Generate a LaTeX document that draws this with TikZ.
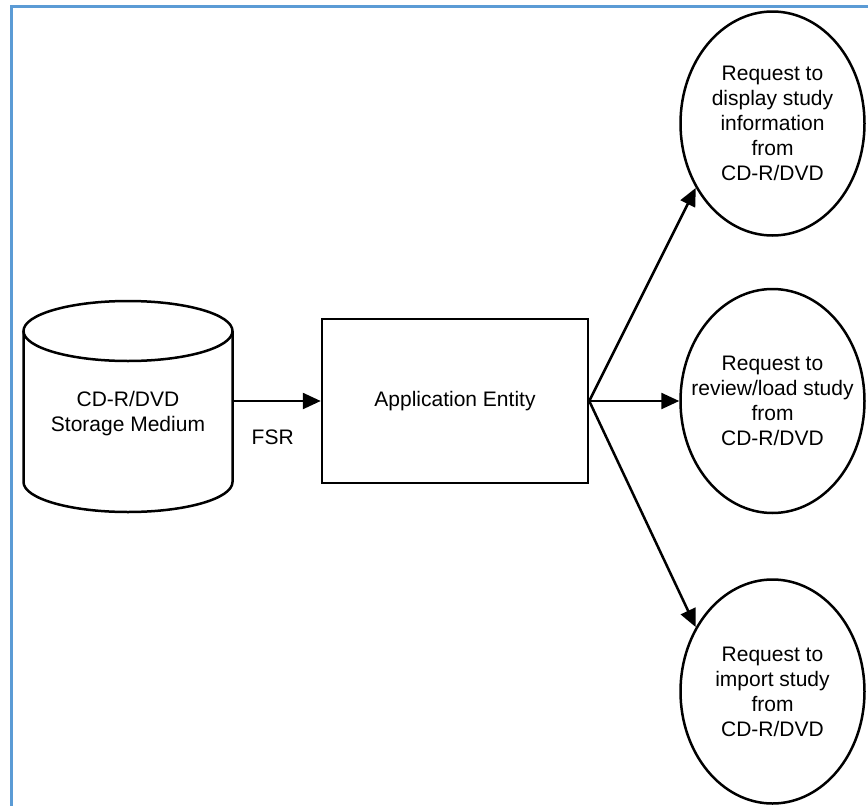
\documentclass[tikz,border=0pt]{standalone}
\usepackage{fontspec}
\setmainfont{Liberation Sans}
\usepackage{tikz}
\usetikzlibrary{shapes,arrows.meta,positioning}
\definecolor{frameblue}{RGB}{91,155,213}
\def\Medium{CD-R/DVD}

\begin{document}
\begin{tikzpicture}[x=1pt,y=1pt,% styles for the whole picture
			every node/.style={
				align=center,	% so that "\\" breaks the line
				font=\fontsize{21pt}{25pt}\selectfont
			},
			every edge/.style={draw,line width=2.5pt},
			request/.style={ellipse,draw,line width=2.5pt,inner xsep=-30pt,inner ysep=0pt,
				minimum width=184pt,minimum height=224pt},
			>={Triangle[length=18pt,width=16pt]}
		]
		\useasboundingbox (0,0) rectangle (868,-806);
		\draw[frameblue,line width=3pt] (868,-6) -- (11,-6) -- (11,-806);
		\node[rectangle,draw,line width=2.5pt,minimum width=266pt,minimum height=164pt](AE) at (455,-401){Application Entity};
		\node[inner sep=0pt,minimum width=209pt,minimum height=151pt](SM) at (128,-414){\Medium\\Storage Medium};
		% the disk drawn round SM
		\draw[line width=2.5pt] ([yshift=83pt]SM.center) ellipse [x radius=104.5pt,y radius=30pt];
		\draw[line width=2.5pt] ([shift={(-104.5pt,83pt)}]SM.center) -- ([shift={(-104.5pt,-68pt)}]SM.center)
			arc[start angle=180,end angle=360,x radius=104.5pt,y radius=30pt] -- ([shift={(104.5pt,83pt)}]SM.center);
		\node[request](Q2)[right=90pt of AE]{Request to\\review/load study\\from\\\Medium};
		\node[request](Q1)[above=51pt of Q2]{Request to\\display study\\information\\from\\\Medium};
		\node[request](Q3)[below=64pt of Q2]{Request to\\import study\\from\\\Medium};
		\path[->]
		(SM.east |- AE.west)edge node[yshift=-36pt,xshift=-4pt] (FSR) {FSR} (AE.west)
		(AE.east)edge (Q1.220)
		(AE.east)edge (Q2.west)
		(AE.east)edge (Q3.140)
		;
	\end{tikzpicture}
\end{document}
